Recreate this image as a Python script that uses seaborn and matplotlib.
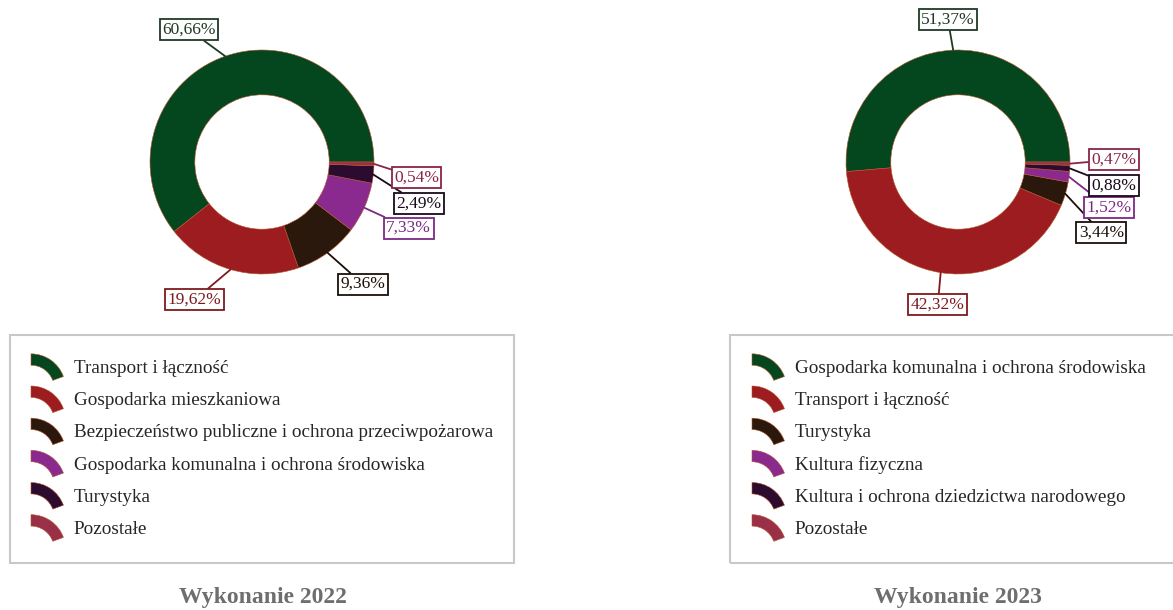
import numpy as np
import matplotlib
matplotlib.use("Agg")
import matplotlib.pyplot as plt
from matplotlib.patches import Wedge, Rectangle
from matplotlib.legend_handler import HandlerPatch
import seaborn as sns

# dane
labels_2022 = ["Transport i łączność", "Gospodarka mieszkaniowa",
               "Bezpieczeństwo publiczne i ochrona przeciwpożarowa",
               "Gospodarka komunalna i ochrona środowiska", "Turystyka", "Pozostałe"]
values_2022 = [60.66, 19.62, 9.36, 7.33, 2.49, 0.54]

labels_2023 = ["Gospodarka komunalna i ochrona środowiska", "Transport i łączność",
               "Turystyka", "Kultura fizyczna",
               "Kultura i ochrona dziedzictwa narodowego", "Pozostałe"]
values_2023 = [51.37, 42.32, 3.44, 1.52, 0.88, 0.47]

titles = ["Wykonanie 2022", "Wykonanie 2023"]

# kolory
colors = ["#04471f", "#9c1c20", "#2b180c", "#8a2a8e", "#2b0b2e", "#9a3048"]
label_colors = ["#1f3a26", "#7d1a1d", "#1a1008", "#7b2a83", "#1a0a1c", "#8a2446"]

# położenie etykiet (w promieniach koła)
text_pos_2022 = [(-0.65, 1.18), (-0.60, -1.23), (0.90, -1.09),
                 (1.31, -0.59), (1.40, -0.37), (1.38, -0.14)]
text_pos_2023 = [(-0.09, 1.27), (-0.18, -1.27), (1.28, -0.63),
                 (1.35, -0.41), (1.39, -0.21), (1.39, 0.02)]

W, H = 1173, 610
R = 112  # promień w pikselach


def arc_patch(legend, orig_handle, xdescent, ydescent, width, height, fontsize):
    r = width
    top = height - ydescent + 3
    return Wedge((-xdescent, top - r), r, 20, 90, width=0.33 * r,
                 facecolor=orig_handle.get_facecolor(), edgecolor="none")


def fmt(v):
    return f"{v:.2f}".replace(".", ",") + "%"


def draw_donut(fig, left_px, values, text_pos):
    ax = fig.add_axes([left_px / W, (H - 320) / H, 504 / W, 320 / H])
    wedges, _ = ax.pie(values, colors=colors, startangle=0, counterclock=True,
                       radius=1.0,
                       wedgeprops=dict(width=0.4, edgecolor="#b5562e", linewidth=0.4))
    ax.set_xlim(-252 / R, 252 / R)
    ax.set_ylim(-158 / R, 162 / R)
    ax.set_aspect("equal")
    ax.axis("off")

    total = sum(values)
    cum = 0
    for i, v in enumerate(values):
        ang = np.deg2rad(360 * (cum + v / 2) / total)
        cum += v
        ax.annotate(fmt(v), xy=(np.cos(ang), np.sin(ang)), xytext=text_pos[i],
                    ha="center", va="center", fontsize=12.5, color=label_colors[i],
                    bbox=dict(boxstyle="square,pad=0.14", fc="white",
                              ec=label_colors[i], lw=1.3),
                    arrowprops=dict(arrowstyle="-", color=label_colors[i], lw=1.3,
                                    shrinkA=0, shrinkB=0))
    return wedges


def main():
    sns.set_theme(style="white")
    plt.rcParams["font.family"] = ["Liberation Serif", "DejaVu Serif"]

    fig = plt.figure(figsize=(W / 100, H / 100), dpi=100)

    w22 = draw_donut(fig, 10, values_2022, text_pos_2022)
    w23 = draw_donut(fig, 706, values_2023, text_pos_2023)

    # ramki legend
    for x0, x1 in [(10, 514), (730, 1185)]:
        fig.add_artist(Rectangle((x0 / W, (H - 563) / H), (x1 - x0) / W, 228 / H,
                                 transform=fig.transFigure, fill=False,
                                 edgecolor="#c8c8c8", lw=1.5))

    for wedges, labels, x_px in [(w22, labels_2022, 31), (w23, labels_2023, 752)]:
        fig.legend(wedges, labels, loc="upper left",
                   bbox_to_anchor=(x_px / W, 1 - 358 / H),
                   frameon=False, fontsize=13.8, borderpad=0, borderaxespad=0,
                   handlelength=1.8, handleheight=1.0, handletextpad=0.42,
                   labelspacing=0.68,
                   handler_map={Wedge: HandlerPatch(patch_func=arc_patch)})

    for title, x_px in zip(titles, [263, 958]):
        fig.text(x_px / W, 1 - 597 / H, title, ha="center", va="center",
                 fontsize=17, fontweight="bold", color="#6e6e6e")

    fig.savefig("out.png", dpi=100)


if __name__ == '__main__':
    main()
